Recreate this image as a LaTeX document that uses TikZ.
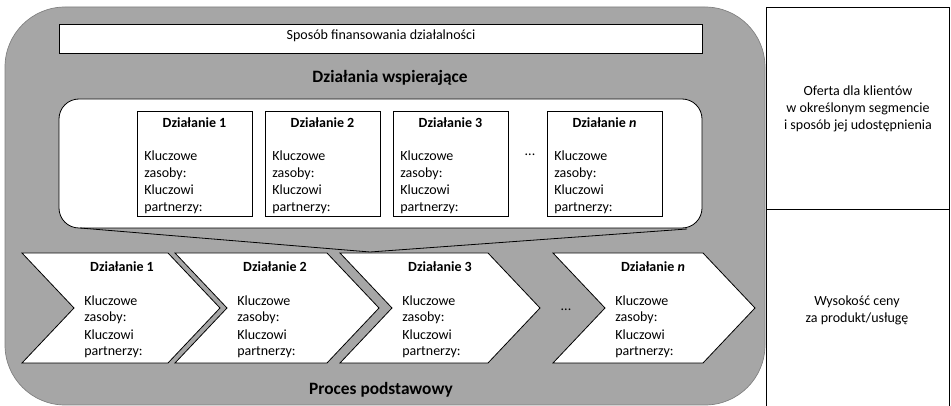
\documentclass[tikz,border=0pt]{standalone}
\usepackage{fontspec}
\setmainfont{Carlito}
\usepackage{tikz}
\definecolor{bggray}{HTML}{A6A6A6}
\definecolor{edgegray}{HTML}{7F7F7F}

\begin{document}
\begin{tikzpicture}[x=0.75pt, y=-0.75pt,
  every node/.style={font=\fontsize{10.5}{12.75}\selectfont, inner sep=0pt},
  box/.style={draw=black, fill=white, line width=0.6pt},
  head/.style={font=\fontsize{13}{15}\selectfont\bfseries},
  title/.style={font=\fontsize{10.5}{12.75}\selectfont\bfseries, anchor=base}]
\useasboundingbox (0,0) rectangle (951,406);

% gray block
\draw[fill=bggray, draw=edgegray, line width=0.5pt, rounded corners=45pt] (5,7) rectangle (765,405);

% right column (base = last line)
\draw[line width=0.6pt] (766,407) -- (766,7) -- (949,7) -- (949,407);
\draw[line width=0.6pt] (766,209) -- (949,209);
\node[align=center, anchor=base] (offer) at (858,130) {Oferta dla klientów\\w określonym segmencie\\i sposób jej udostępnienia};
\node[align=center, anchor=base] (price) at (857,323) {Wysokość ceny\\za produkt/usługę};

% financing
\draw[box] (59,24) rectangle (702,53);
\node[anchor=base] (finance) at (381,40) {Sposób finansowania działalności};
\node[head, anchor=base] (support) at (390,83) {Działania wspierające};

% support activities
\draw[box, rounded corners=15pt] (59,99) rectangle (702,228);
\foreach \x/\nm/\t in {137/s1/1, 265/s2/2, 393/s3/3, 547/sn/{\textit{n}}}{
    \draw[box] (\x,111) rectangle ++(115,105);
    \node[title] (\nm-title) at (\x+57.5,128) {Działanie \t};
    \node[anchor=base west, align=left] (\nm-body) at (\x+7,212) {Kluczowe\\zasoby:\\Kluczowi\\partnerzy:};
}
\node[anchor=base] (sdots) at (530,156) {...};

% funnel
\coordinate (fl) at (80,228);
\coordinate (fr) at (687,229);
\coordinate (apex) at (370,252);
\draw[line width=0.6pt] (fl) -- (apex) -- (fr);

% core process
\foreach \x/\w/\nm/\t in {22/146/c1/1, 175/152/c2/2, 340/148/c3/3, 553/150/cn/{\textit{n}}}{
    \draw[box, line join=miter] (\x,253) -- ++(\w,0) -- ++(52,55) -- ++(-52,55) -- ++(-\w,0) -- ++(52,-55) -- cycle;
    \node[title] (\nm-title) at (\x+100,272) {Działanie \t};
    \node[anchor=base west, align=left] (\nm-body) at (\x+62,356) {Kluczowe\\zasoby:\\Kluczowi\\partnerzy:};
}
\node[anchor=base] (cdots) at (566,311) {...};
\node[head, anchor=base] (core) at (381,394) {Proces podstawowy};
\end{tikzpicture}
\end{document}
